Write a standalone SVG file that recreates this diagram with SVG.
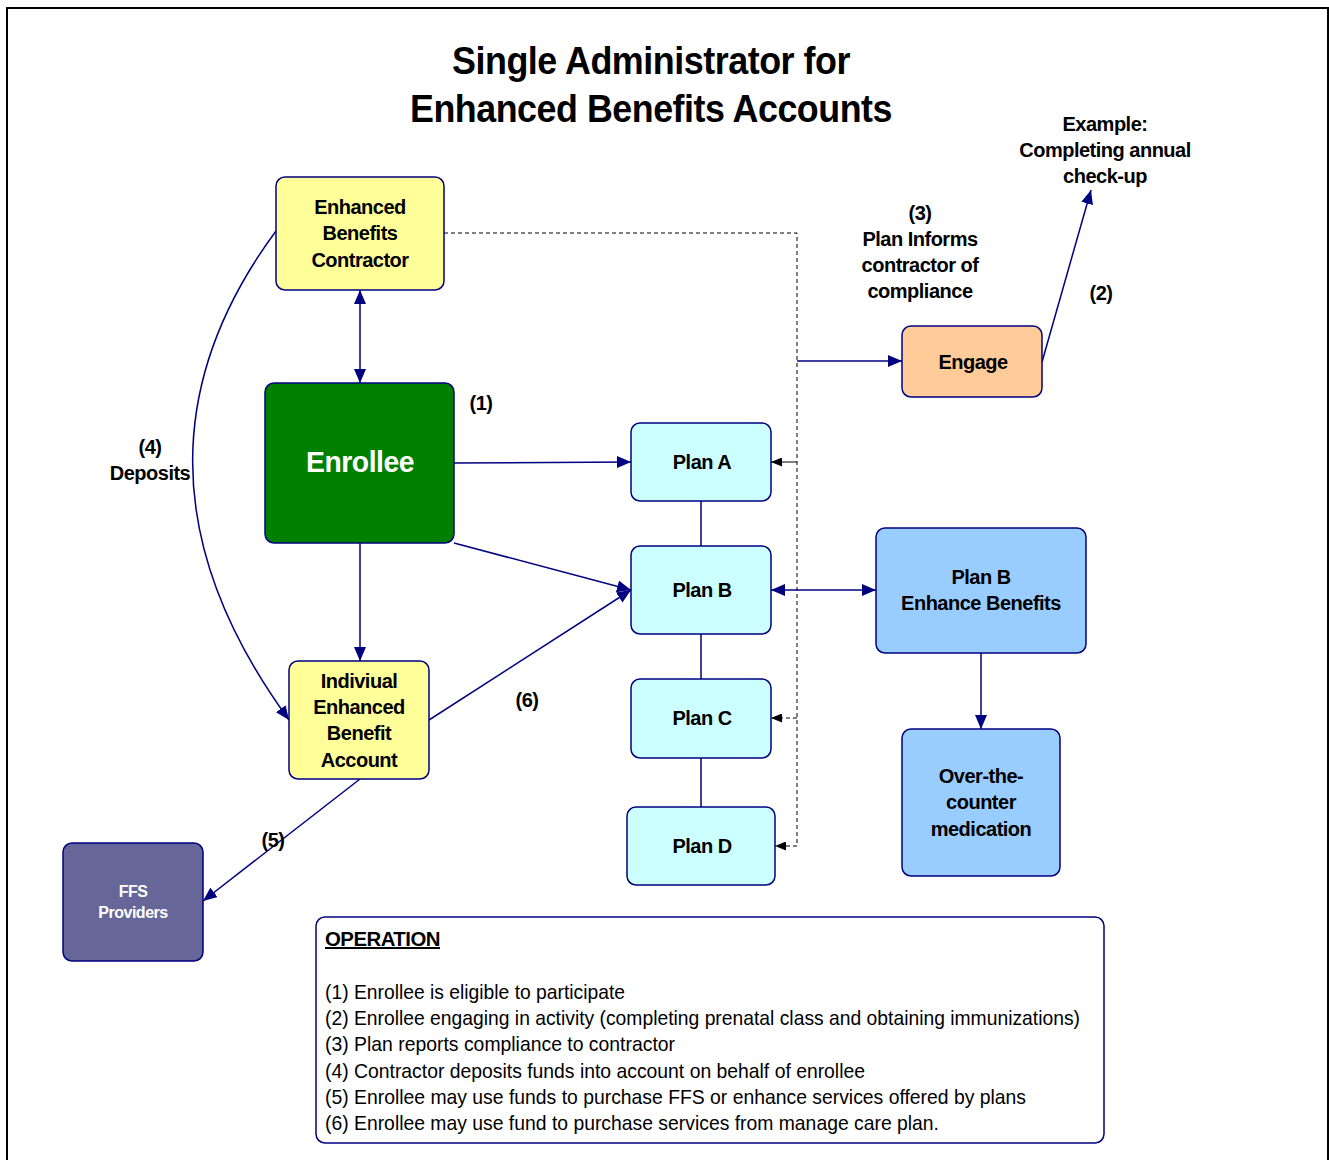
<svg xmlns="http://www.w3.org/2000/svg" width="1329" height="1160" viewBox="0 0 1329 1160">
<defs>
<style>
.t{font-family:"Liberation Sans",Arial,sans-serif;font-weight:bold;font-size:20px;letter-spacing:-0.5px;fill:#000;text-anchor:middle}
.w{fill:#fff}
.op{font-family:"Liberation Sans",Arial,sans-serif;font-size:21px;fill:#000}
.node{stroke:#000080;stroke-width:1.5}
.c{fill:none;stroke:#000080;stroke-width:1.5}
.d{fill:none;stroke:#000;stroke-width:1;stroke-dasharray:4,3}
</style>
<marker id="a" viewBox="0 0 14 12" refX="14" refY="6" markerWidth="14" markerHeight="12" markerUnits="userSpaceOnUse" orient="auto-start-reverse">
<path d="M0,0 L14,6 L0,12 Z" fill="#000080"/>
</marker>
<marker id="b" viewBox="0 0 11 9" refX="11" refY="4.5" markerWidth="11" markerHeight="9" markerUnits="userSpaceOnUse" orient="auto">
<path d="M0,0 L11,4.5 L0,9 Z" fill="#000"/>
</marker>
</defs>
<rect x="0" y="0" width="1329" height="1160" fill="#fff"/>
<rect x="7" y="8" width="1321" height="1170" fill="none" stroke="#000" stroke-width="2"/>

<g id="title">
<text class="t" x="651" y="74" textLength="398" lengthAdjust="spacingAndGlyphs" style="font-size:38px">Single Administrator for</text>
<text class="t" x="651" y="122" textLength="482" lengthAdjust="spacingAndGlyphs" style="font-size:38px">Enhanced Benefits Accounts</text>
</g>

<g id="connectors">
<path class="d" d="M444,233 H797 V846"/>
<path d="M797,462 H771" fill="none" stroke="#000" stroke-width="1" marker-end="url(#b)"/>
<path class="d" d="M797,718 H771" marker-end="url(#b)"/>
<path class="d" d="M797,846 H775" marker-end="url(#b)"/>
<path class="c" d="M797,361 H902" marker-end="url(#a)"/>
<path class="c" d="M771,590 H876" marker-start="url(#a)" marker-end="url(#a)"/>
<path class="c" d="M981,653 V729" marker-end="url(#a)"/>
<path class="c" d="M1042,362 L1091,190" marker-end="url(#a)"/>
<path class="c" d="M360,290 V383" marker-start="url(#a)" marker-end="url(#a)"/>
<path class="c" d="M454,463 L631,462" marker-end="url(#a)"/>
<path class="c" d="M454,543 L631,590" marker-end="url(#a)"/>
<path class="c" d="M429,720 L631,590" marker-end="url(#a)"/>
<path class="c" d="M360,543 V661" marker-end="url(#a)"/>
<path class="c" d="M276,231 Q103,465 289,720" marker-end="url(#a)"/>
<path class="c" d="M360,779 L203,901" marker-end="url(#a)"/>
<path class="c" d="M701,501 V546 M701,634 V679 M701,758 V807"/>
</g>

<g id="contractor">
<rect class="node" x="276" y="177" width="168" height="113" rx="9" fill="#FFFF99"/>
<text class="t" x="360" y="214">Enhanced</text>
<text class="t" x="360" y="240">Benefits</text>
<text class="t" x="360" y="267">Contractor</text>
</g>

<g id="enrollee">
<rect class="node" x="265" y="383" width="189" height="160" rx="9" fill="#008000"/>
<text class="t w" x="360" y="472" style="font-size:30px" textLength="108" lengthAdjust="spacingAndGlyphs">Enrollee</text>
</g>

<g id="engage">
<rect class="node" x="902" y="326" width="140" height="71" rx="9" fill="#FFCC99"/>
<text class="t" x="973" y="369">Engage</text>
</g>

<g id="planA">
<rect class="node" x="631" y="423" width="140" height="78" rx="9" fill="#CCFFFF"/>
<text class="t" x="702" y="469">Plan A</text>
</g>
<g id="planB">
<rect class="node" x="631" y="546" width="140" height="88" rx="9" fill="#CCFFFF"/>
<text class="t" x="702" y="597">Plan B</text>
</g>
<g id="planC">
<rect class="node" x="631" y="679" width="140" height="79" rx="9" fill="#CCFFFF"/>
<text class="t" x="702" y="725">Plan C</text>
</g>
<g id="planD">
<rect class="node" x="627" y="807" width="148" height="78" rx="9" fill="#CCFFFF"/>
<text class="t" x="702" y="853">Plan D</text>
</g>

<g id="planBEnhance">
<rect class="node" x="876" y="528" width="210" height="125" rx="9" fill="#99CCFF"/>
<text class="t" x="981" y="584">Plan B</text>
<text class="t" x="981" y="610">Enhance Benefits</text>
</g>

<g id="otc">
<rect class="node" x="902" y="729" width="158" height="147" rx="9" fill="#99CCFF"/>
<text class="t" x="981" y="783">Over-the-</text>
<text class="t" x="981" y="809">counter</text>
<text class="t" x="981" y="836">medication</text>
</g>

<g id="account">
<rect class="node" x="289" y="661" width="140" height="118" rx="9" fill="#FFFF99"/>
<text class="t" x="359" y="688">Indiviual</text>
<text class="t" x="359" y="714">Enhanced</text>
<text class="t" x="359" y="740">Benefit</text>
<text class="t" x="359" y="767">Account</text>
</g>

<g id="ffs">
<rect class="node" x="63" y="843" width="140" height="118" rx="9" fill="#666699"/>
<text class="t w" x="133" y="897" style="font-size:16px">FFS</text>
<text class="t w" x="133" y="918" style="font-size:16px">Providers</text>
</g>

<g id="labels">
<text class="t" x="481" y="410">(1)</text>
<text class="t" x="1101" y="300">(2)</text>
<text class="t" x="920" y="220">(3)</text>
<text class="t" x="920" y="246">Plan Informs</text>
<text class="t" x="920" y="272">contractor of</text>
<text class="t" x="920" y="298">compliance</text>
<text class="t" x="1105" y="131">Example:</text>
<text class="t" x="1105" y="157">Completing annual</text>
<text class="t" x="1105" y="183">check-up</text>
<text class="t" x="150" y="454">(4)</text>
<text class="t" x="150" y="480">Deposits</text>
<text class="t" x="527" y="707">(6)</text>
<text class="t" x="273" y="847">(5)</text>
</g>

<g id="operation">
<rect x="316" y="917" width="788" height="226" rx="9" fill="#fff" stroke="#000080" stroke-width="1.5"/>
<text class="t" x="325" y="946" style="text-anchor:start;text-decoration:underline" textLength="115" lengthAdjust="spacingAndGlyphs">OPERATION</text>
<text class="op" x="325" y="999" textLength="300" lengthAdjust="spacingAndGlyphs">(1) Enrollee is eligible to participate</text>
<text class="op" x="325" y="1025" textLength="755" lengthAdjust="spacingAndGlyphs">(2) Enrollee engaging in activity (completing prenatal class and obtaining immunizations)</text>
<text class="op" x="325" y="1051" textLength="350" lengthAdjust="spacingAndGlyphs">(3) Plan reports compliance to contractor</text>
<text class="op" x="325" y="1078" textLength="540" lengthAdjust="spacingAndGlyphs">(4) Contractor deposits funds into account on behalf of enrollee</text>
<text class="op" x="325" y="1104" textLength="701" lengthAdjust="spacingAndGlyphs">(5) Enrollee may use funds to purchase FFS or enhance services offered by plans</text>
<text class="op" x="325" y="1130" textLength="614" lengthAdjust="spacingAndGlyphs">(6) Enrollee may use fund to purchase services from manage care plan.</text>
</g>
</svg>
